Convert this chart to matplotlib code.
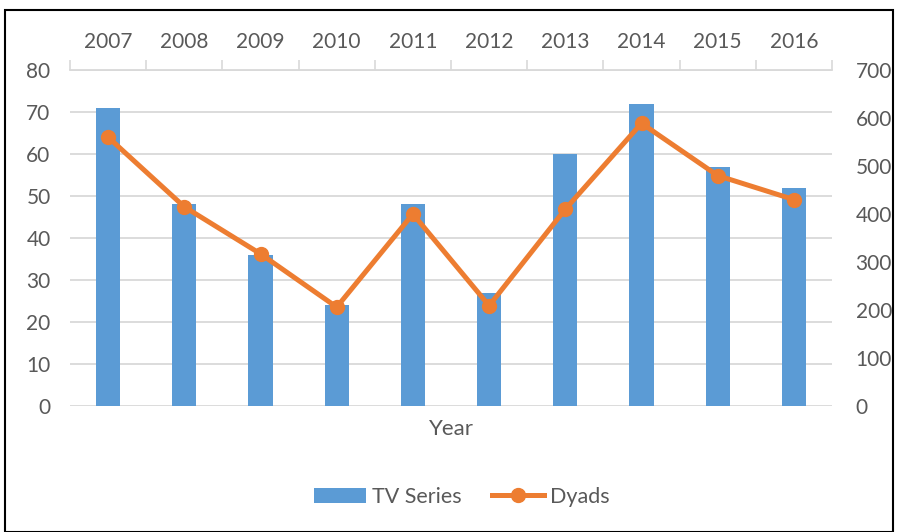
import numpy as np
import matplotlib.pyplot as plt
from matplotlib.patches import Rectangle
from matplotlib.lines import Line2D
from matplotlib.patches import Patch

years = ["2007", "2008", "2009", "2010", "2011", "2012", "2013", "2014", "2015", "2016"]
tv_series = [71, 48, 36, 24, 48, 27, 60, 72, 57, 52]
dyads = [560, 415, 317, 206, 400, 209, 410, 589, 480, 430]

blue = "#5B9BD5"
orange = "#ED7D31"
grey_txt = "#595959"
grid_c = "#D9D9D9"

plt.rcParams['font.family'] = ['Lato', 'DejaVu Sans']

fig = plt.figure(figsize=(8.97, 5.32), dpi=100)
ax = fig.add_axes([70/897, 1-406/532, (832-70)/897, (406-70)/532])
ax2 = ax.twinx()

x = np.arange(len(years))
ax.bar(x, tv_series, width=0.315, color=blue, zorder=2)
ax2.plot(x, dyads, color=orange, lw=3.6, marker="o", ms=10, zorder=3)

ax.set_xlim(-0.5, len(years) - 0.5)
ax.set_ylim(0, 80)
ax.set_yticks(np.arange(0, 81, 10))
ax2.set_ylim(0, 700)
ax2.set_yticks(np.arange(0, 701, 100))

ax.yaxis.grid(True, color=grid_c, lw=1.3, zorder=0)
ax.set_axisbelow(True)

# year labels on top, tick marks between categories
ax.xaxis.tick_top()
ax.set_xticks(x)
ax.set_xticklabels(years)
ax.set_xticks(np.arange(-0.5, len(years)), minor=True)
ax.tick_params(axis="x", which="major", length=0, pad=13, labelsize=15, labelcolor=grey_txt)
ax.tick_params(axis="x", which="minor", length=7, width=1.2, color=grid_c, top=True, bottom=False)
ax.tick_params(axis="y", length=0, pad=14, labelsize=15, labelcolor=grey_txt)
ax2.tick_params(axis="y", length=0, pad=17, labelsize=15, labelcolor=grey_txt)

for a in (ax, ax2):
    for s in a.spines.values():
        s.set_visible(False)
ax.spines["top"].set_visible(True)
ax.spines["top"].set_color(grid_c)
ax.spines["top"].set_linewidth(1.3)

ax.text(0.5, -0.04, "Year", transform=ax.transAxes, ha="center", va="top",
        fontsize=16, color=grey_txt)

handles = [Patch(facecolor=blue, label="TV Series"),
           Line2D([0], [0], color=orange, lw=3.6, marker="o", ms=10, label="Dyads")]
fig.legend(handles=handles, loc="center", bbox_to_anchor=(462/897, 1-497/532), ncol=2,
           frameon=False, fontsize=15.5, labelcolor=grey_txt, handlelength=2.4,
           columnspacing=1.4, handletextpad=0.3)

fig.patches.append(Rectangle((5/897, 0), 888/897, 1-10/532, transform=fig.transFigure,
                             fill=False, edgecolor="black", lw=1.5))

fig.savefig("out.png", dpi=100)
